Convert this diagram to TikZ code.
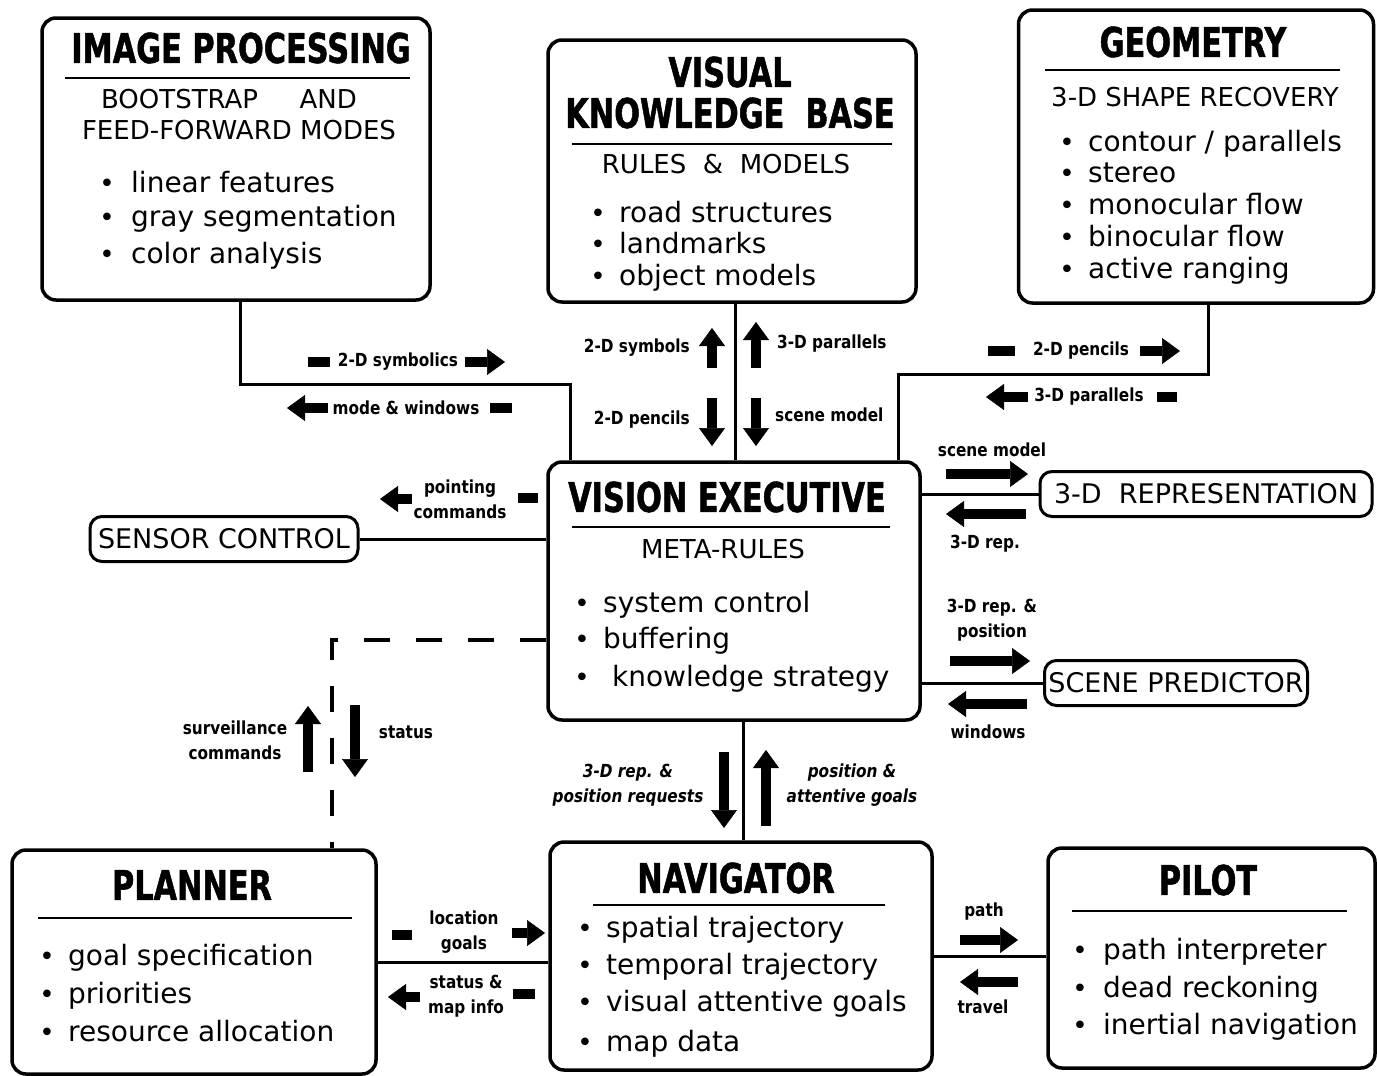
\documentclass[tikz,border=0pt]{standalone}
\usepackage{fontspec}
\setmainfont{DejaVu Sans}
\newfontfamily\ttlfont[FakeStretch=0.74,FakeBold=1.2]{DejaVu Sans}
\newfontfamily\lblfont[FakeStretch=0.85]{DejaVu Sans}
\usetikzlibrary{arrows.meta,calc}

\tikzset{
  box/.style={draw, line width=3.5pt, rounded corners=14pt, inner sep=0pt},
  pill/.style={draw, line width=3pt, rounded corners=12pt, minimum height=45pt, inner sep=0pt, font=\fontsize{27}{30}\selectfont},
  wire/.style={line width=3pt},
  rulel/.style={line width=2.5pt},
  ttl/.style={font=\ttlfont\bfseries\fontsize{41}{44}\selectfont, inner sep=0pt},
  sub/.style={font=\fontsize{26}{30}\selectfont, inner sep=0pt},
  itm/.style={anchor=base west, font=\fontsize{28}{32}\selectfont, inner sep=0pt},
  dot/.style={anchor=base, font=\fontsize{26}{30}\selectfont, inner sep=0pt},
  lbl/.style={font=\lblfont\bfseries\fontsize{18}{25}\selectfont, align=center, inner sep=0pt},
  fat/.style={line width=10pt, -{Triangle[length=18pt,width=26pt,line width=0.5pt]}},
  stub/.style={line width=10pt},
}

\begin{document}
\begin{tikzpicture}[x=1pt,y=-1pt]
	\useasboundingbox (0,0) rectangle (1377,1076);

	% main boxes
	\node[box, minimum width=388pt, minimum height=282pt] (imgproc) at (236,159) {};
	\node[box, minimum width=368pt, minimum height=262pt] (vkb) at (732,171) {};
	\node[box, minimum width=355pt, minimum height=293pt] (geom) at (1196,156.5) {};
	\node[box, minimum width=372pt, minimum height=258pt] (exec) at (734,591) {};
	\node[box, minimum width=364pt, minimum height=224pt] (planner) at (194,962) {};
	\node[box, minimum width=382pt, minimum height=228pt] (nav) at (741,956) {};
	\node[box, minimum width=327pt, minimum height=220pt] (pilot) at (1211.5,958) {};
	\node[pill, minimum width=268pt] (sensor) at (224,539) {SENSOR CONTROL};
	\node[pill, minimum width=332pt] (rep3d) at (1206,494) {3-D\ \ REPRESENTATION};
	\node[pill, minimum width=263pt] (scenepred) at (1176,683) {SCENE PREDICTOR};

	% image processing
	\node[ttl] (ip-t) at (241,48) {IMAGE PROCESSING};
	\draw[rulel] (65,78) -- (410,78);
	\node[sub] (ip-s1) at (229,99) {BOOTSTRAP\hspace{1.6em}AND};
	\node[sub] (ip-s2) at (239,130) {FEED-FORWARD MODES};
	\foreach \y/\txt [count=\i] in {182/linear features, 216/gray segmentation, 253/color analysis}
	{ \node[dot] (ip-d\i) at (107,\y+10) {•}; \node[itm] (ip-i\i) at (131,\y+10) {\txt}; }

	% visual knowledge base
	\node[ttl] (kb-t1) at (730,72) {VISUAL};
	\node[ttl] (kb-t2) at (730,113) {KNOWLEDGE\ \ BASE};
	\draw[rulel] (572,144) -- (892,144);
	\node[sub] (kb-s) at (726,164) {RULES \ \& \ MODELS};
	\foreach \y/\txt [count=\i] in {212/road structures, 243/landmarks, 275/object models}
	{ \node[dot] (kb-d\i) at (598,\y+10) {•}; \node[itm] (kb-i\i) at (619,\y+10) {\txt}; }

	% geometry
	\node[ttl] (ge-t) at (1193,42) {GEOMETRY};
	\draw[rulel] (1045,70) -- (1340,70);
	\node[sub] (ge-s) at (1195,97) {3-D SHAPE RECOVERY};
	\foreach \y/\txt [count=\i] in {141/{contour / parallels}, 172/stereo, 204/monocular\ flow, 236/binocular\ flow, 268/active\ ranging}
	{ \node[dot] (ge-d\i) at (1067,\y+10) {•}; \node[itm] (ge-i\i) at (1088,\y+10) {\txt}; }

	% vision executive
	\node[ttl] (ex-t) at (727,497) {VISION EXECUTIVE};
	\draw[rulel] (572,527) -- (890,527);
	\node[sub] (ex-s) at (723,549) {META-RULES};
	\foreach \y/\txt [count=\i] in {602/system control, 638/buffering, 676/\ knowledge strategy}
	{ \node[dot] (ex-d\i) at (582,\y+10) {•}; \node[itm] (ex-i\i) at (603,\y+10) {\txt}; }

	% planner
	\node[ttl] (pl-t) at (192,885) {PLANNER};
	\draw[rulel] (38,918) -- (352,918);
	\foreach \y/\txt [count=\i] in {955/goal specification, 993/priorities, 1031/resource allocation}
	{ \node[dot] (pl-d\i) at (47,\y+10) {•}; \node[itm] (pl-i\i) at (68,\y+10) {\txt}; }

	% navigator
	\node[ttl] (nv-t) at (736,878) {NAVIGATOR};
	\draw[rulel] (593,905) -- (885,905);
	\foreach \y/\txt [count=\i] in {927/spatial trajectory, 964/temporal trajectory, 1001/visual attentive goals, 1041/map data}
	{ \node[dot] (nv-d\i) at (585,\y+10) {•}; \node[itm] (nv-i\i) at (606,\y+10) {\txt}; }

	% pilot
	\node[ttl] (pi-t) at (1208,880) {PILOT};
	\draw[rulel] (1072,911) -- (1347,911);
	\foreach \y/\txt [count=\i] in {949/path interpreter, 987/dead reckoning, 1024/inertial navigation}
	{ \node[dot] (pi-d\i) at (1080,\y+10) {•}; \node[itm] (pi-i\i) at (1103,\y+10) {\txt}; }

	% connections
	\coordinate (ipc) at (570,384);
	\draw[wire] ([xshift=4pt]imgproc.south) |- (ipc) -- (ipc |- exec.north);
	\draw[wire] ([xshift=3pt]vkb.south) -- ([xshift=3pt]vkb.south |- exec.north);
	\coordinate (gec) at (898,374);
	\draw[wire] ([xshift=12pt]geom.south) |- (gec) -- (gec |- exec.north);
	\draw[wire] (sensor.east) -- (sensor.east -| exec.west);
	\draw[wire] (rep3d.west) -- (rep3d.west -| exec.east);
	\draw[wire] (scenepred.west) -- (scenepred.west -| exec.east);
	\draw[wire] ([xshift=9pt]exec.south) -- ([xshift=9pt]exec.south |- nav.north);
	\coordinate (dsc) at (332,640);
	\draw[wire, line width=3.5pt, dash pattern=on 26pt off 26pt] (exec.west |- dsc) -- (dsc) -- (dsc |- planner.north);
	\draw[wire] (planner.east) -- (planner.east -| nav.west);
	\draw[wire] (nav.east) -- (nav.east -| pilot.west);

	% flow labels
	\draw[stub] (308,362) -- (330,362);
	\node[lbl] (l1) at (398,362) {2-D symbolics};
	\draw[fat] (465,362) -- (505,362);
	\draw[fat] (328,408) -- (287,408);
	\node[lbl] (l2) at (406,408) {mode \& windows};
	\draw[stub] (490,408) -- (512,408);

	\node[lbl, anchor=east] (l3) at (690,348) {2-D symbols};
	\draw[fat] (712,368) -- (712,328);
	\node[lbl, anchor=west] (l4) at (777,344) {3-D parallels};
	\draw[fat] (756,368) -- (756,322);
	\node[lbl, anchor=east] (l5) at (690,420) {2-D pencils};
	\draw[fat] (712,398) -- (712,446);
	\node[lbl, anchor=west] (l6) at (775,415) {scene model};
	\draw[fat] (756,398) -- (756,446);

	\draw[stub] (988,351) -- (1015,351);
	\node[lbl] (l7) at (1081,351) {2-D pencils};
	\draw[fat] (1140,351) -- (1180,351);
	\draw[fat] (1028,397) -- (986,397);
	\node[lbl] (l8) at (1089,397) {3-D parallels};
	\draw[stub] (1157,397) -- (1177,397);

	\node[lbl] (l9) at (992,450) {scene model};
	\draw[fat] (946,474) -- (1028,474);
	\draw[fat] (1026,514) -- (946,514);
	\node[lbl] (l10) at (985,544) {3-D rep.};

	\draw[fat] (412,499) -- (380,499);
	\node[lbl] (l11) at (460,499) {pointing\\commands};
	\draw[stub] (518,498) -- (538,498);

	\node[lbl] (l12) at (992,620) {3-D rep. \&\\position};
	\draw[fat] (950,661) -- (1030,661);
	\draw[fat] (1027,704) -- (948,704);
	\node[lbl] (l13) at (988,732) {windows};

	\node[lbl] (l14) at (235,740) {surveillance\\commands};
	\draw[fat] (308,772) -- (308,706);
	\node[lbl] (l15) at (406,732) {status};
	\draw[fat] (355,705) -- (355,777);

	\node[lbl, font=\lblfont\bfseries\itshape\fontsize{18}{25}\selectfont] (l16) at (628,785) {3-D rep. \&\\position requests};
	\draw[fat] (724,752) -- (724,828);
	\node[lbl, font=\lblfont\bfseries\itshape\fontsize{18}{25}\selectfont] (l17) at (852,785) {position \&\\attentive goals};
	\draw[fat] (766,826) -- (766,750);

	\draw[stub] (392,935) -- (412,935);
	\node[lbl] (l18) at (464,932) {location\\goals};
	\draw[fat] (512,933) -- (545,933);
	\draw[fat] (420,997) -- (388,997);
	\node[lbl] (l19) at (466,996) {status \&\\map info};
	\draw[stub] (513,994) -- (535,994);

	\node[lbl] (l20) at (984,912) {path};
	\draw[fat] (960,940) -- (1018,940);
	\draw[fat] (1018,982) -- (960,982);
	\node[lbl] (l21) at (983,1007) {travel};
\end{tikzpicture}
\end{document}
